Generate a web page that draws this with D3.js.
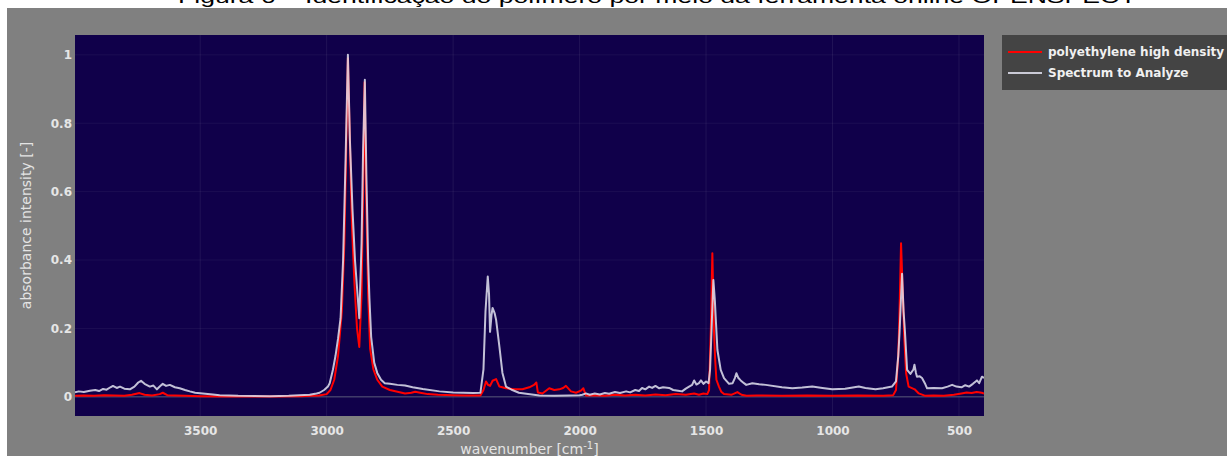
<!DOCTYPE html>
<html>
<head>
<meta charset="utf-8">
<style>
  body { margin: 0; background: #fff; }
  svg text { font-family: "DejaVu Sans", Verdana, sans-serif; }
</style>
</head>
<body>
<div id="chart"></div>
<script src="https://d3js.org/d3.v7.min.js"></script>
<script>
// reference spectrum (red): polyethylene high density
var refWn  = [3995,3960,3920,3880,3840,3800,3770,3740,3720,3690,3660,3648,3630,3600,3560,3500,3400,3300,3200,3100,3060,3030,3000,2985,2970,2955,2940,2930,2922,2916,2910,2900,2890,2880,2871,2862,2856,2850,2844,2836,2828,2815,2800,2780,2750,2720,2690,2665,2650,2630,2600,2560,2500,2450,2392,2380,2370,2362,2354,2344,2330,2317,2291,2260,2226,2199,2180,2171,2165,2147,2120,2100,2080,2065,2054,2034,2014,1995,1985,1975,1950,1900,1860,1820,1780,1740,1700,1660,1620,1580,1547,1528,1510,1495,1488,1481,1475,1469,1464,1459,1449,1440,1429,1400,1376,1360,1340,1300,1200,1100,1000,900,800,760,749,740,735,729,722,716,709,699,675,659,633,600,560,520,490,470,450,430,410,401];
var refAbs = [0.003,0.004,0.003,0.005,0.004,0.003,0.006,0.011,0.006,0.004,0.008,0.012,0.005,0.004,0.003,0.002,0.001,0.001,0.001,0.002,0.003,0.004,0.008,0.02,0.05,0.12,0.25,0.45,0.75,0.99,0.8,0.5,0.33,0.2,0.146,0.3,0.6,0.92,0.6,0.3,0.14,0.08,0.05,0.03,0.02,0.015,0.01,0.012,0.015,0.012,0.008,0.006,0.005,0.004,0.004,0.02,0.045,0.035,0.032,0.047,0.052,0.03,0.025,0.022,0.022,0.028,0.035,0.042,0.013,0.01,0.025,0.02,0.022,0.026,0.032,0.016,0.012,0.018,0.025,0.004,0.005,0.003,0.006,0.004,0.006,0.004,0.007,0.005,0.008,0.006,0.01,0.006,0.01,0.008,0.02,0.2,0.42,0.2,0.11,0.05,0.03,0.015,0.008,0.006,0.014,0.006,0.003,0.004,0.003,0.004,0.003,0.004,0.003,0.005,0.02,0.12,0.25,0.449,0.3,0.17,0.069,0.03,0.022,0.01,0.003,0.004,0.003,0.006,0.01,0.013,0.011,0.014,0.012,0.01];

// sample spectrum (white): Spectrum to Analyze
var smpWn  = [3995,3980,3960,3936,3915,3900,3884,3870,3855,3845,3830,3817,3800,3778,3760,3745,3734,3720,3699,3685,3671,3660,3648,3635,3620,3600,3581,3560,3541,3520,3490,3450,3423,3350,3225,3150,3067,3040,3028,3010,2995,2988,2975,2965,2955,2945,2935,2925,2916,2908,2898,2888,2878,2871,2862,2856,2849,2843,2836,2831,2824,2812,2800,2785,2770,2750,2720,2690,2660,2620,2554,2500,2420,2392,2380,2372,2363,2358,2354,2348,2344,2336,2330,2317,2305,2291,2266,2240,2211,2159,2100,2040,2000,1989,1975,1960,1940,1920,1900,1883,1860,1840,1816,1800,1780,1765,1753,1740,1725,1713,1700,1685,1670,1646,1630,1610,1595,1580,1567,1555,1547,1538,1528,1520,1510,1500,1490,1484,1478,1471,1465,1462,1455,1442,1429,1409,1395,1386,1380,1372,1363,1350,1341,1317,1290,1264,1200,1159,1120,1080,1040,1001,950,896,870,830,800,765,749,740,735,725,719,714,705,692,680,676,670,666,655,646,635,626,600,567,545,527,510,490,475,460,445,429,420,409,401];
var smpAbs = [0.013,0.016,0.014,0.018,0.02,0.017,0.023,0.021,0.028,0.032,0.026,0.03,0.024,0.022,0.03,0.042,0.047,0.038,0.03,0.033,0.022,0.03,0.038,0.032,0.035,0.028,0.025,0.02,0.016,0.012,0.01,0.007,0.005,0.003,0.002,0.003,0.006,0.01,0.012,0.02,0.03,0.04,0.08,0.12,0.17,0.23,0.4,0.7,1.0,0.75,0.55,0.4,0.3,0.23,0.45,0.72,0.927,0.65,0.4,0.29,0.175,0.1,0.07,0.05,0.04,0.038,0.035,0.033,0.028,0.023,0.016,0.013,0.011,0.012,0.08,0.25,0.352,0.3,0.19,0.24,0.26,0.245,0.225,0.147,0.07,0.03,0.02,0.012,0.009,0.004,0.003,0.004,0.005,0.006,0.01,0.006,0.01,0.007,0.011,0.009,0.014,0.011,0.016,0.013,0.02,0.017,0.026,0.022,0.03,0.026,0.032,0.025,0.028,0.026,0.02,0.018,0.016,0.024,0.03,0.035,0.048,0.036,0.04,0.048,0.038,0.045,0.04,0.08,0.2,0.342,0.28,0.235,0.137,0.079,0.055,0.038,0.04,0.055,0.069,0.055,0.048,0.04,0.035,0.04,0.037,0.035,0.028,0.025,0.027,0.03,0.026,0.022,0.024,0.03,0.026,0.022,0.025,0.03,0.045,0.12,0.187,0.36,0.25,0.196,0.079,0.067,0.08,0.094,0.07,0.059,0.06,0.055,0.04,0.025,0.026,0.025,0.03,0.035,0.03,0.028,0.034,0.03,0.038,0.048,0.04,0.059,0.055];

var xTicks = [3500, 3000, 2500, 2000, 1500, 1000, 500];
var yTicks = [0, 0.2, 0.4, 0.6, 0.8, 1];
var seriesNames = ["polyethylene high density", "Spectrum to Analyze"];
var seriesColors = ["#ff0000", "rgba(226,226,240,0.85)"];

var W = 1227, H = 456;
var plot = {left: 75, right: 984, top: 35, bottom: 416};

var svg = d3.select("#chart").append("svg")
    .attr("width", W)
    .attr("height", H)
    .style("display", "block");

// caption, mostly cut off at the top (as in the source figure)
svg.append("text")
    .attr("x", 178)
    .attr("y", 3)
    .attr("textLength", 959)
    .attr("lengthAdjust", "spacingAndGlyphs")
    .style("font-family", "Arial, 'Liberation Sans', sans-serif")
    .style("font-size", "18px")
    .style("fill", "#000")
    .text("Figura 6 – Identificação do polímero por meio da ferramenta online OPENSPECY");

svg.append("rect")
    .attr("x", 7).attr("y", 8)
    .attr("width", W - 7).attr("height", H - 8)
    .attr("fill", "#808080");

var x = d3.scaleLinear().domain([3995, 401]).range([plot.left, plot.right]);
var y = d3.scaleLinear().domain([-0.056, 1.058]).range([plot.bottom, plot.top]);

svg.append("rect")
    .attr("x", plot.left).attr("y", plot.top)
    .attr("width", plot.right - plot.left)
    .attr("height", plot.bottom - plot.top)
    .attr("fill", "#10004a");

// grid
svg.append("g").selectAll("line")
    .data(xTicks).enter().append("line")
    .attr("x1", d => x(d)).attr("x2", d => x(d))
    .attr("y1", plot.top).attr("y2", plot.bottom)
    .attr("stroke", "rgba(255,255,255,0.07)");

svg.append("g").selectAll("line")
    .data(yTicks.filter(d => d > 0)).enter().append("line")
    .attr("x1", plot.left).attr("x2", plot.right)
    .attr("y1", d => y(d)).attr("y2", d => y(d))
    .attr("stroke", "rgba(255,255,255,0.05)");

svg.append("line")
    .attr("x1", plot.left).attr("x2", plot.right)
    .attr("y1", y(0)).attr("y2", y(0))
    .attr("stroke", "#5a5a7a")
    .attr("stroke-width", 1);

// axes
var xAxis = svg.append("g")
    .attr("transform", "translate(0," + plot.bottom + ")")
    .call(d3.axisBottom(x).tickValues(xTicks).tickSize(0).tickPadding(10).tickFormat(d3.format("d")));
var yAxis = svg.append("g")
    .attr("transform", "translate(" + plot.left + ",0)")
    .call(d3.axisLeft(y).tickValues(yTicks).tickSize(0).tickPadding(3).tickFormat(d3.format("~g")));

[xAxis, yAxis].forEach(function(g) {
  g.select(".domain").remove();
  g.selectAll("text")
    .style("font-family", "'DejaVu Sans', Verdana, sans-serif")
    .style("font-size", "12px")
    .style("font-weight", "bold")
    .style("fill", "#e6e6e6");
});

svg.append("text")
    .attr("transform", "translate(31," + ((plot.top + plot.bottom) / 2) + ") rotate(-90)")
    .attr("text-anchor", "middle")
    .style("font-size", "14px")
    .style("fill", "#e4e4e4")
    .text("absorbance intensity [-]");

var xt = svg.append("text")
    .attr("x", (plot.left + plot.right) / 2)
    .attr("y", 454)
    .attr("text-anchor", "middle")
    .style("font-size", "14px")
    .style("fill", "#e4e4e4");
xt.append("tspan").text("wavenumber [cm");
xt.append("tspan").attr("dy", -5).style("font-size", "10px").text("-1");
xt.append("tspan").attr("dy", 5).text("]");

// spectra
svg.append("clipPath").attr("id", "clip")
  .append("rect")
    .attr("x", plot.left).attr("y", plot.top)
    .attr("width", plot.right - plot.left)
    .attr("height", plot.bottom - plot.top);

var line = d3.line()
    .x(d => x(d[0]))
    .y(d => y(d[1]));

var series = [
  d3.zip(refWn, refAbs),
  d3.zip(smpWn, smpAbs)
];

svg.append("g").attr("clip-path", "url(#clip)")
  .selectAll("path")
  .data(series).enter().append("path")
    .attr("d", line)
    .attr("fill", "none")
    .attr("stroke", (d, i) => seriesColors[i])
    .attr("stroke-width", 2)
    .attr("stroke-linejoin", "round");

// legend
var lg = svg.append("g").attr("transform", "translate(1002,35)");
lg.append("rect")
    .attr("width", 225).attr("height", 55)
    .attr("fill", "#444444");
var items = lg.selectAll("g.item")
    .data(seriesNames).enter().append("g")
    .attr("transform", (d, i) => "translate(0," + (17 + i * 21) + ")");
items.append("line")
    .attr("x1", 6).attr("x2", 40)
    .attr("stroke", (d, i) => seriesColors[i])
    .attr("stroke-width", 2);
items.append("text")
    .attr("x", 46)
    .attr("dy", "0.35em")
    .style("font-size", "12px")
    .style("font-weight", "bold")
    .style("fill", "#f0f0f0")
    .text(d => d);
</script>
</body>
</html>
